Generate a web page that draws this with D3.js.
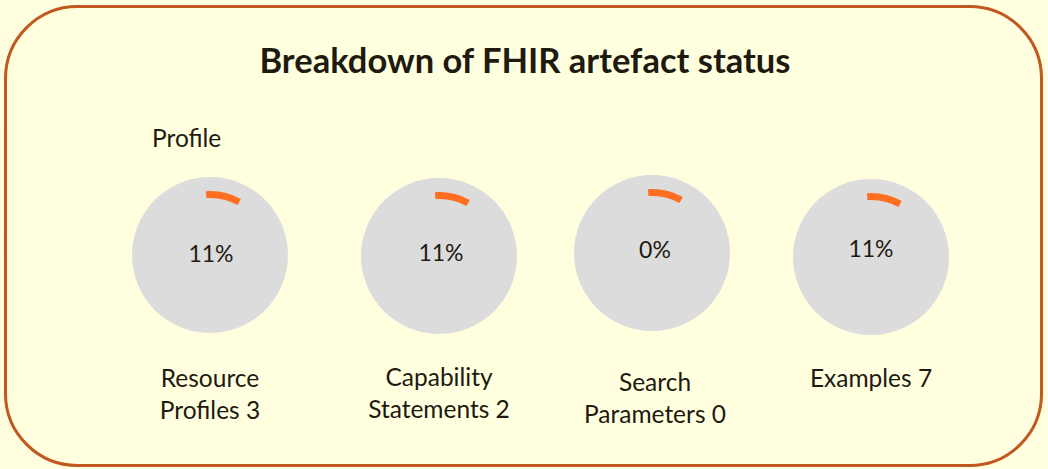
<!DOCTYPE html>
<html>
<head>
<meta charset="utf-8">
<script src="https://cdn.jsdelivr.net/npm/d3@7"></script>
<style>
  html, body { margin: 0; padding: 0; background: #FFFEDF; }
  svg { display: block; }
  text { font-family: "Lato", "Liberation Sans", sans-serif; fill: #1E1A10; }
</style>
</head>
<body>
<svg id="chart" width="1048" height="469"></svg>
<script>
// ---- data ----
const title = "Breakdown of FHIR artefact status";
const sectionLabel = "Profile";
const categories = [["Resource", "Profiles 3"], ["Capability", "Statements 2"], ["Search", "Parameters 0"], ["Examples 7"]];
const counts = [3, 2, 0, 7];
const percentLabels = ["11%", "11%", "0%", "11%"];
const indicatorShare = [0.08, 0.08, 0.08, 0.08]; // visible orange arc share of each gauge

const W = 1048, H = 469;
const svg = d3.select("#chart");

// panel
svg.append("rect")
  .attr("x", 5.5).attr("y", 6.5).attr("width", 1036).attr("height", 459)
  .attr("rx", 72).attr("ry", 72)
  .attr("fill", "#FFFEDF").attr("stroke", "#C0581F").attr("stroke-width", 3);

svg.append("text")
  .attr("x", 525).attr("y", 73)
  .attr("text-anchor", "middle")
  .style("font-weight", "bold").style("font-size", "34.5px")
  .text(title);

svg.append("text")
  .attr("x", 152).attr("y", 147)
  .style("font-size", "24.5px")
  .text(sectionLabel);

const centersX = [210, 439, 652, 871];
const centersY = [255, 256, 253, 257];
const radius = 78;

const angle = d3.scaleLinear().domain([0, 1]).range([0, 2 * Math.PI]);
const arc = d3.arc().innerRadius(57).outerRadius(64);

const g = svg.selectAll("g.gauge").data(categories).join("g")
  .attr("class", "gauge")
  .attr("transform", (d, i) => `translate(${centersX[i]},${centersY[i]})`);

g.append("circle").attr("r", radius).attr("fill", "#DCDCDC");

g.append("path")
  .attr("fill", "#FF6E21")
  .attr("d", (d, i) => arc({ startAngle: angle(-0.01), endAngle: angle(indicatorShare[i]) }));

g.append("text")
  .attr("text-anchor", "middle")
  .attr("x", (d, i) => [1, 2, 3, 0][i])
  .attr("y", (d, i) => [7, 5, 5, 0][i])
  .style("font-size", "23px")
  .text((d, i) => percentLabels[i]);

const labelBase = [387, 386, 391, 387];
g.each(function (lines, i) {
  const t = d3.select(this).append("text")
    .attr("text-anchor", "middle")
    .style("font-size", "24.5px");
  lines.forEach((ln, k) => {
    t.append("tspan").attr("x", (i === 2 ? 3 : 0))
      .attr("y", labelBase[i] - centersY[i] + k * 32)
      .text(ln);
  });
});
</script>
</body>
</html>
